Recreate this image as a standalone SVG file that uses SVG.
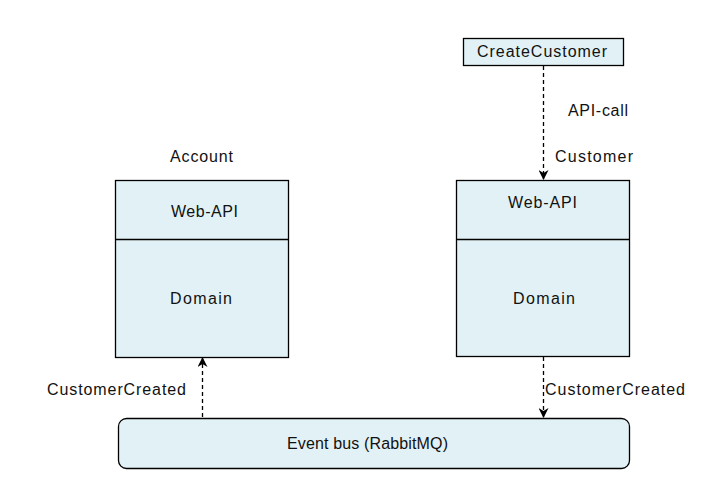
<svg xmlns="http://www.w3.org/2000/svg" width="705" height="495" viewBox="0 0 705 495">
<style>
.box{fill:#e2f1f5;stroke:#000;stroke-width:1.3}
.t{font-family:"Liberation Sans",Arial,sans-serif;font-size:16px;fill:#111}
.e{fill:none;stroke:#000;stroke-width:1.3;stroke-dasharray:4 3}
</style>
<defs>
<marker id="ah" markerWidth="10" markerHeight="10" refX="9" refY="5" orient="auto" markerUnits="userSpaceOnUse">
<path d="M0,0 L10,5 L0,10 L3,5 Z" fill="#000"/>
</marker>
</defs>
<rect width="705" height="495" fill="#fff"/>
<g id="account">
<text class="t" x="170" y="162" textLength="63">Account</text>
<rect class="box" x="115.5" y="180.5" width="173" height="177"/>
<line x1="115.5" y1="239.5" x2="288.5" y2="239.5" stroke="#000" stroke-width="1.3"/>
<text class="t" x="171" y="217" textLength="67">Web-API</text>
<text class="t" x="170" y="304" textLength="62">Domain</text>
</g>
<g id="customer">
<text class="t" x="555" y="162" textLength="78">Customer</text>
<rect class="box" x="456.5" y="180.5" width="173" height="176"/>
<line x1="456.5" y1="239.5" x2="629.5" y2="239.5" stroke="#000" stroke-width="1.3"/>
<text class="t" x="508" y="208" textLength="69">Web-API</text>
<text class="t" x="513" y="304" textLength="62">Domain</text>
</g>
<g id="createCustomer">
<rect class="box" x="463.5" y="38.5" width="160" height="27"/>
<text class="t" x="477" y="57" textLength="130">CreateCustomer</text>
</g>
<g id="eventbus">
<rect class="box" x="118.5" y="418.5" width="511" height="50" rx="8"/>
<text class="t" x="287" y="449" textLength="161">Event bus (RabbitMQ)</text>
</g>
<g id="connectors">
<line class="e" x1="543.5" y1="66" x2="543.5" y2="179" marker-end="url(#ah)"/>
<text class="t" x="568" y="116" textLength="60">API-call</text>
<line class="e" x1="202.5" y1="417" x2="202.5" y2="358" marker-end="url(#ah)"/>
<text class="t" x="47" y="395" textLength="139">CustomerCreated</text>
<line class="e" x1="543.5" y1="357" x2="543.5" y2="417" marker-end="url(#ah)"/>
<text class="t" x="545" y="395" textLength="140">CustomerCreated</text>
</g>
</svg>
